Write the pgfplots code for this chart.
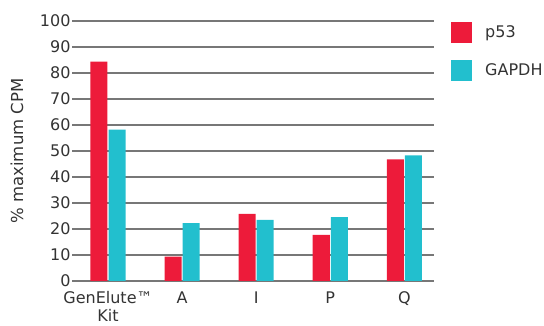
\documentclass[border=0pt]{standalone}
\usepackage{pgfplots}
\pgfplotsset{compat=1.18}
\usepackage{fontspec}
\setmainfont{DejaVu Sans}
\definecolor{pred}{HTML}{ED1B3A}
\definecolor{pcyan}{HTML}{22BFCE}
\definecolor{txt}{HTML}{333333}
\definecolor{gridc}{HTML}{777777}
\begin{document}
\begin{tikzpicture}
\useasboundingbox (0,0) rectangle (544bp,326bp);
\begin{axis}[
  at={(72bp,45bp)}, anchor=south west,
  scale only axis, width=362bp, height=260bp,
  xmin=-0.486, xmax=4.4, ymin=0, ymax=100,
  axis line style={draw=none},
  major tick length=0pt,
  xtick={0,1,2,3,4},
  xticklabels={{GenElute™\\Kit},A,I,P,Q},
  xticklabel style={align=center, font=\fontsize{16bp}{18bp}\selectfont, text=txt, anchor=north, yshift=-7bp},
  ytick={0,10,...,100},
  yticklabel style={font=\fontsize{16bp}{18bp}\selectfont, text=txt, anchor=east, xshift=2bp},
  /pgf/number format/assume math mode=true,
  ymajorgrids, grid style={gridc, line width=1.2bp},
  ylabel={\% maximum CPM},
  every axis y label/.style={at={(-55bp,0.5)}, rotate=90, anchor=center, font=\fontsize{16.5bp}{18bp}\selectfont, text=txt},
  legend style={at={(451bp-72bp,259bp)}, anchor=north west, draw=none, fill=none, inner sep=0pt,
    font=\fontsize{16bp}{18bp}\selectfont, text=txt, row sep=17bp,
    /tikz/every odd column/.append style={column sep=11bp}},
  legend cell align=left,
  legend image code/.code={\fill[#1] (0bp,-10.5bp) rectangle (21bp,10.5bp);},
]
\addplot[ybar, bar width=0.23, bar shift=-0.122, fill=pred, draw=none] coordinates {(0,84.4) (1,9.4) (2,25.8) (3,17.7) (4,46.8)};
\addplot[ybar, bar width=0.23, bar shift=0.122, fill=pcyan, draw=none] coordinates {(0,58.2) (1,22.3) (2,23.5) (3,24.6) (4,48.3)};
\legend{p53,GAPDH}
\end{axis}
\end{tikzpicture}
\end{document}
